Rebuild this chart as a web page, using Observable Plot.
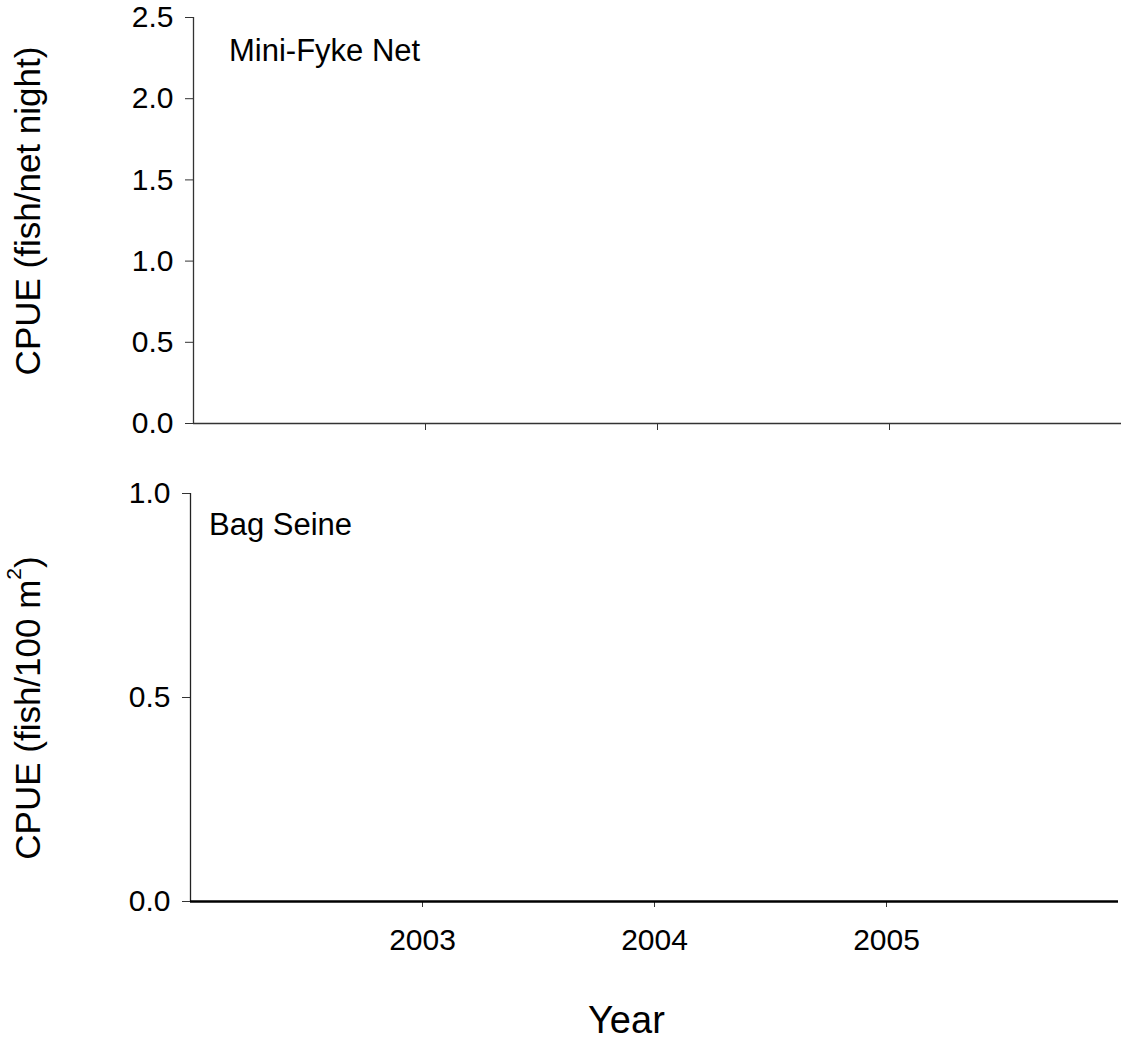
<!DOCTYPE html>
<html>
<head>
<meta charset="utf-8">
<script src="https://cdn.jsdelivr.net/npm/d3@7"></script>
<script src="https://cdn.jsdelivr.net/npm/@observablehq/plot@0.6"></script>
<style>
  body { margin: 0; background: #fff; font-family: "Liberation Sans", Arial, sans-serif; }
  #wrap { position: relative; width: 1121px; height: 1040px; overflow: hidden; }
  #wrap svg { position: absolute; left: 0; }
  .lab { position: absolute; color: #000; white-space: nowrap; font-family: "Liberation Sans", Arial, sans-serif; }
  .ylab { transform: translate(-50%, -50%) rotate(-90deg); }
</style>
</head>
<body>
<div id="wrap"></div>
<script>
// Data (no catch recorded in either gear: all values zero)
const years = [2003, 2004, 2005];
const miniFykeCPUE = [0, 0, 0];
const bagSeineCPUE = [0, 0, 0];
const yTicksTop = [0, 0.5, 1.0, 1.5, 2.0, 2.5];
const yTicksBottom = [0, 0.5, 1.0];
const xDomain = [2002, 2006];

const wrap = document.getElementById("wrap");
const font = '"Liberation Sans", Arial, sans-serif';

const topData = years.map((y, i) => ({year: y, v: miniFykeCPUE[i]}));
const botData = years.map((y, i) => ({year: y, v: bagSeineCPUE[i]}));

const topPlot = Plot.plot({
  width: 1121, height: 450,
  marginLeft: 193, marginRight: 0, marginTop: 17, marginBottom: 27,
  style: {fontFamily: font, fontSize: "30px", color: "#000", background: "transparent", overflow: "visible"},
  x: {domain: xDomain, label: null},
  y: {domain: [0, 2.5], label: null},
  marks: [
    Plot.rectY(topData, {x1: d => d.year - 0.3, x2: d => d.year + 0.3, y: "v", fill: "#000"}),
    Plot.axisY({ticks: yTicksTop, tickFormat: d3.format(".1f"), tickSize: 8, tickPadding: 12, stroke: "#333", label: null}),
    Plot.axisX({ticks: years, tickFormat: () => "", tickSize: 7, stroke: "#333", label: null}),
    Plot.ruleX([xDomain[0]], {stroke: "#333", strokeWidth: 1.3}),
    Plot.ruleY([0], {stroke: "#333", strokeWidth: 1.5})
  ]
});
topPlot.style.top = "0px";
wrap.appendChild(topPlot);

const botPlot = Plot.plot({
  width: 1121, height: 600,
  marginLeft: 190, marginRight: 3, marginTop: 53, marginBottom: 139,
  style: {fontFamily: font, fontSize: "30px", color: "#000", background: "transparent", overflow: "visible"},
  x: {domain: xDomain, label: null},
  y: {domain: [0, 1], label: null},
  marks: [
    Plot.rectY(botData, {x1: d => d.year - 0.3, x2: d => d.year + 0.3, y: "v", fill: "#000"}),
    Plot.axisY({ticks: yTicksBottom, tickFormat: d3.format(".1f"), tickSize: 8, tickPadding: 12, stroke: "#333", label: null}),
    Plot.axisX({ticks: years, tickFormat: d3.format("d"), tickSize: 6, tickPadding: 21, stroke: "#333", label: null}),
    Plot.ruleX([xDomain[0]], {stroke: "#222", strokeWidth: 1.3}),
    Plot.ruleY([0], {stroke: "#000", strokeWidth: 2.5})
  ]
});
botPlot.style.top = "440px";
wrap.appendChild(botPlot);

function addLabel(html, css, cls) {
  const d = document.createElement("div");
  d.className = "lab" + (cls ? " " + cls : "");
  d.innerHTML = html;
  Object.assign(d.style, css);
  wrap.appendChild(d);
}
addLabel("Mini-Fyke Net", {left: "229px", top: "33px", fontSize: "31px"});
addLabel("Bag Seine", {left: "209px", top: "507px", fontSize: "31px"});
addLabel("CPUE (fish/net night)", {left: "28px", top: "211px", fontSize: "35px"}, "ylab");
addLabel("CPUE (fish/100 m<sup style='font-size:21px;vertical-align:0.9em;line-height:0'>2</sup>)", {left: "28px", top: "708px", fontSize: "35px"}, "ylab");
addLabel("Year", {left: "588px", top: "1001px", fontSize: "38px", lineHeight: "1"});
</script>
</body>
</html>
